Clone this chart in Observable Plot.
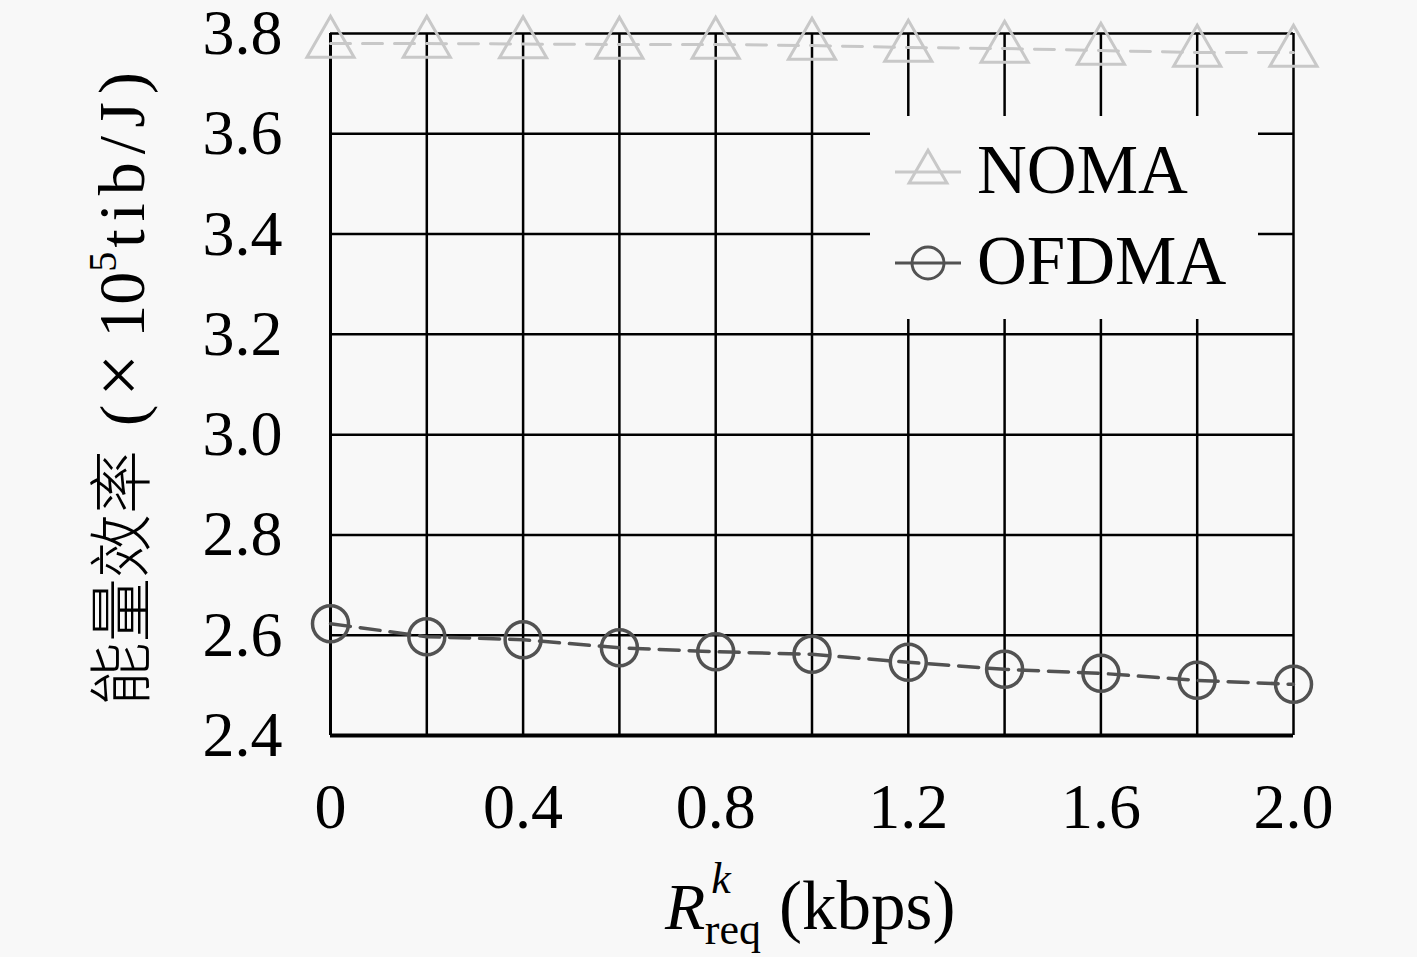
<!DOCTYPE html>
<html>
<head>
<meta charset="utf-8">
<script src="https://cdn.jsdelivr.net/npm/d3@7"></script>
<script src="https://cdn.jsdelivr.net/npm/@observablehq/plot@0.6"></script>
<style>
  html, body { margin: 0; padding: 0; background: #f8f8f8; }
  #chart { width: 1417px; height: 957px; }
</style>
</head>
<body>
<div id="chart"></div>
<script>
// ---- data ----
const rateValues = [0, 0.2, 0.4, 0.6, 0.8, 1.0, 1.2, 1.4, 1.6, 1.8, 2.0];
const nomaValues = [3.780, 3.780, 3.779, 3.778, 3.778, 3.776, 3.772, 3.770, 3.766, 3.762, 3.762];
const ofdmaValues = [2.623, 2.597, 2.591, 2.575, 2.567, 2.562, 2.546, 2.532, 2.524, 2.510, 2.502];
const seriesNames = ["NOMA", "OFDMA"];
const xTickValues = [0, 0.4, 0.8, 1.2, 1.6, 2.0];
const xTickLabels = ["0", "0.4", "0.8", "1.2", "1.6", "2.0"];
const xGridValues = [0, 0.2, 0.4, 0.6, 0.8, 1.0, 1.2, 1.4, 1.6, 1.8, 2.0];
const yTickValues = [2.4, 2.6, 2.8, 3.0, 3.2, 3.4, 3.6, 3.8];
const yTickLabels = ["2.4", "2.6", "2.8", "3.0", "3.2", "3.4", "3.6", "3.8"];

const noma = rateValues.map((x, i) => ({x, y: nomaValues[i]}));
const ofdma = rateValues.map((x, i) => ({x, y: ofdmaValues[i]}));

const BG = "#f8f8f8";
const NOMA_C = "#c8c8c8";
const OFDMA_C = "#525252";
const SERIF = "'Liberation Serif', 'DejaVu Serif', serif";
const CJK = "'Noto Sans CJK SC', sans-serif";

const chart = Plot.plot({
  width: 1417,
  height: 957,
  marginLeft: 330,
  marginRight: 124,
  marginTop: 33,
  marginBottom: 222,
  style: {background: BG, fontFamily: SERIF, fontSize: "64px", color: "black", overflow: "visible"},
  x: {domain: [0, 2]},
  y: {domain: [2.4, 3.8]},
  marks: [
    Plot.gridX(xGridValues, {stroke: "black", strokeOpacity: 1, strokeWidth: 2.5}),
    Plot.gridY(yTickValues, {stroke: "black", strokeOpacity: 1, strokeWidth: 2.5}),
    Plot.ruleX([0], {stroke: "black", strokeWidth: 3}),
    Plot.ruleY([2.4], {stroke: "black", strokeWidth: 4}),
    Plot.axisX(xTickValues, {tickSize: 0, tickPadding: 47, label: null,
      tickFormat: d => xTickLabels[xTickValues.indexOf(d)], fontSize: 64}),
    Plot.axisY(yTickValues, {tickSize: 0, tickPadding: 48, label: null,
      tickFormat: d => yTickLabels[yTickValues.indexOf(d)], fontSize: 64}),
    Plot.line(noma, {x: "x", y: "y", stroke: NOMA_C, strokeWidth: 3, strokeDasharray: "20,12"}),
    Plot.dot(noma, {x: "x", y: "y", symbol: "triangle", r: 17.5, stroke: NOMA_C, strokeWidth: 3, fill: "none"}),
    Plot.line(ofdma, {x: "x", y: "y", stroke: OFDMA_C, strokeWidth: 3.5, strokeDasharray: "20,10"}),
    Plot.dot(ofdma, {x: "x", y: "y", symbol: "circle", r: 18, stroke: OFDMA_C, strokeWidth: 3.5, fill: "none"})
  ]
});
document.getElementById("chart").appendChild(chart);

const svg = d3.select(chart);

// ---- legend ----
const lg = svg.append("g").attr("text-anchor", "start");
lg.append("rect").attr("x", 870).attr("y", 116).attr("width", 388).attr("height", 203).attr("fill", BG);
const legendItems = [
  {name: seriesNames[0], color: NOMA_C, sym: d3.symbolTriangle, size: 620, y: 172},
  {name: seriesNames[1], color: OFDMA_C, sym: d3.symbolCircle, size: Math.PI * 16 * 16, y: 263}
];
for (const it of legendItems) {
  lg.append("line").attr("x1", 895).attr("x2", 961).attr("y1", it.y).attr("y2", it.y)
    .attr("stroke", it.color).attr("stroke-width", 3);
  lg.append("path").attr("d", d3.symbol(it.sym, it.size)())
    .attr("transform", `translate(928,${it.y})`)
    .attr("fill", "none").attr("stroke", it.color).attr("stroke-width", 3);
  lg.append("text").attr("x", 977).attr("y", it.y + 21)
    .attr("text-anchor", "start")
    .attr("font-family", SERIF).attr("font-size", 69).attr("fill", "black")
    .text(it.name);
}

// ---- x axis title: R^k_req (kbps) ----
const xt = svg.append("text")
  .attr("x", 665).attr("y", 929)
  .attr("text-anchor", "start")
  .attr("font-family", SERIF).attr("font-size", 66).attr("fill", "black");
xt.append("tspan").attr("font-style", "italic").text("R");
xt.append("tspan").attr("font-style", "italic").attr("font-size", 44).attr("dy", -36).attr("dx", 6).text("k");
xt.append("tspan").attr("font-size", 44).attr("dy", 51).attr("dx", -26).text("req");
xt.append("tspan").attr("font-size", 69).attr("dy", -15).attr("dx", 18).text("(kbps)");

// ---- y axis title ----
const yt = svg.append("text")
  .attr("transform", "translate(144,706) rotate(-90)")
  .attr("text-anchor", "start")
  .attr("font-size", 64).attr("fill", "black");
yt.append("tspan").attr("font-family", CJK).attr("font-weight", 300).text("能量效率");
yt.append("tspan").attr("font-family", SERIF).attr("dx", 24).text("(");
yt.append("tspan").attr("font-family", SERIF).attr("font-size", 76).attr("dx", 8).text("×");
yt.append("tspan").attr("font-family", SERIF).attr("font-size", 66).attr("dx", 16).text("10");
yt.append("tspan").attr("font-family", SERIF).attr("font-size", 40).attr("dy", -28).text("5");
yt.append("tspan").attr("font-family", SERIF).attr("font-size", 66).attr("dy", 28).attr("dx", 4)
  .attr("letter-spacing", 8).text("tib/J)");
</script>
</body>
</html>
